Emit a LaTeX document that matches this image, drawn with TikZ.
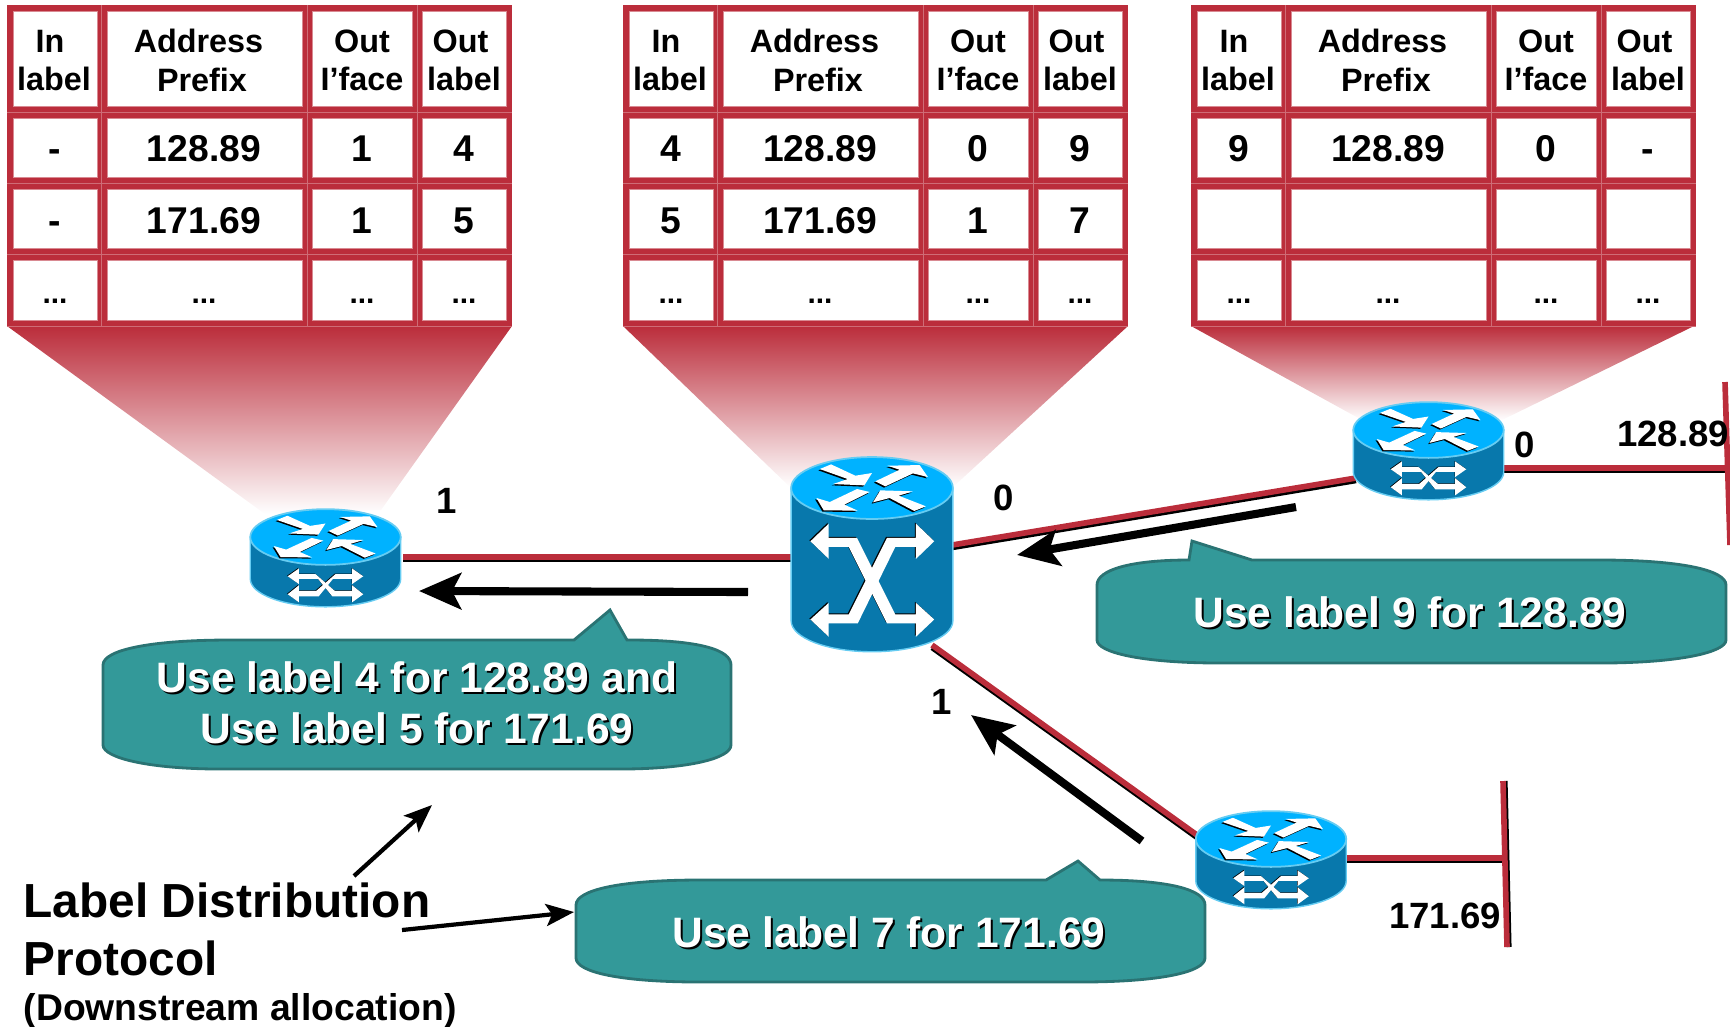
\documentclass[tikz,border=0pt]{standalone}
\usepackage{fontspec}
\setmainfont{Liberation Sans}
\usetikzlibrary{arrows.meta}

\definecolor{lfibred}{HTML}{BB2D3B}
\definecolor{lfibedge}{HTML}{D98A92}
\definecolor{toolteal}{HTML}{339999}
\definecolor{tealedge}{HTML}{2A7373}
\definecolor{routertopc}{HTML}{00B2FF}
\definecolor{routerside}{HTML}{0878AC}
\definecolor{routeredge}{HTML}{66CCF2}

\tikzset{
	headtext/.style={font=\fontsize{9.2}{11}\selectfont\bfseries,align=center,inner sep=0pt},
	celltext/.style={font=\fontsize{10.6}{12}\selectfont\bfseries,inner sep=0pt,text height=7.6pt,text depth=0pt},
	dotstext/.style={font=\fontsize{8.5}{10}\selectfont\bfseries,inner sep=0pt,anchor=base},
	labeltext/.style={font=\fontsize{10.4}{12}\selectfont\bfseries,inner sep=0pt},
	linkred/.style={draw=lfibred,line width=1.6pt},
	linkblack/.style={draw=black,line width=1.4pt},
	bigarrow/.style={line width=2.3pt,-{Stealth[length=0.42cm,width=0.36cm,inset=0.09cm]}},
	thinarrow/.style={line width=1.2pt,-{Stealth[length=0.28cm,width=0.22cm,inset=0.06cm]}},
	calloutbox/.style={fill=toolteal,draw=tealedge,line width=0.8pt},
	routerpart/.style={x=0.00333cm,y=0.00333cm}
}

% one table, #2 is its shift, #3 its two rows
\newcommand{\lfibtable}[3]{
	\begin{scope}[shift={(#2,0)}]
	\fill[lfibred] (7,5) rectangle (512,326);
	\foreach \ya in {112,183,254,326}
		\draw[lfibred!70!white,line width=0.2pt] (7,\ya) -- (512,\ya);
	\foreach \xa in {101.5,307,417}
		\draw[lfibred!70!white,line width=0.2pt] (\xa,5) -- (\xa,326);
	\foreach \xa/\xb in {13/97,107/302,312/412,422/506}
		\foreach \ya/\yb in {11/106,118/177,189/248,260/320}
			\fill[white,draw=lfibedge,line width=0.2pt] (\xa,\ya) rectangle (\xb,\yb);
	\node[headtext] (#1-in) at (54,60.5) {In\kern0.08cm\\label};
	\node[headtext] (#1-pre) at (202,60.5) {Address\kern0.07cm\\Prefix};
	\node[headtext] (#1-if) at (362,60.5) {Out\\I’face};
	\node[headtext] (#1-out) at (464,60.5) {Out\kern0.07cm\\label};
	\foreach \y/\a/\b/\c/\d in {#3} {
		\node[celltext] (#1-in\y) at (55,\y) {\a};
		\node[celltext] (#1-pre\y) at (204,\y) {\b};
		\node[celltext] (#1-if\y) at (362,\y) {\c};
		\node[celltext] (#1-out\y) at (464,\y) {\d};
	}
	\node[dotstext] (#1-ind) at (55,303) {...};
	\node[dotstext] (#1-pred) at (204,303) {...};
	\node[dotstext] (#1-ifd) at (362,303) {...};
	\node[dotstext] (#1-outd) at (464,303) {...};
	\end{scope}
}

% the four arrows on top of a router
\newcommand{\routerarrows}{
	\foreach \dx/\dy/\col in {-4/-4/black,0/0/white} {
		\begin{scope}[shift={(\dx,\dy)}]
		\fill[\col] (-157,57) -- (-123,71) -- (-50,37) -- (0,45) -- (-23,8) -- (-117,12) -- (-73,27) -- cycle;
		\fill[\col] (10,20) -- (83,55) -- (47,67) -- (143,69) -- (168,33) -- (123,44) -- (40,5) -- cycle;
		\fill[\col] (-7,-12) -- (-83,-50) -- (-43,-68) -- (-145,-67) -- (-167,-30) -- (-127,-42) -- (-45,-3) -- cycle;
		\fill[\col] (162,-55) -- (127,-69) -- (53,-30) -- (3,-43) -- (25,-7) -- (123,-10) -- (80,-23) -- cycle;
		\end{scope}
	}
}
% #1 is the height of the side
\newcommand{\routerbody}[1]{
	\fill[routerside,draw=routeredge,line width=0.4pt] (-243,0) -- (-243,-#1) arc (180:360:243 and 93) -- (243,0) -- cycle;
	\fill[routertopc,draw=routeredge,line width=0.5pt] (0,0) ellipse (243 and 93);
	\routerarrows
}
\newcommand{\switchrouter}[3]{
	\begin{scope}[shift={(#2,#3)},routerpart]
	\coordinate (#1) at (0,0);
	\routerbody{399}
	\foreach \dx/\dy/\col in {-3/3/black,0/0/white} {
		\fill[\col,shift={(\dx,\dy)}] (-185,-160) -- (-130,-107) -- (-130,-150) -- (-45,-150) -- (70,-380) -- (132,-380) -- (132,-345) -- (187,-395) -- (132,-447) -- (132,-407) -- (45,-407) -- (-70,-177) -- (-130,-177) -- (-130,-213) -- cycle;
		\fill[\col,shift={(\dx,\dy)}] (187,-160) -- (132,-107) -- (132,-150) -- (45,-150) -- (-70,-380) -- (-130,-380) -- (-130,-345) -- (-185,-395) -- (-130,-447) -- (-130,-407) -- (-43,-407) -- (70,-177) -- (132,-177) -- (132,-213) -- cycle;
	}
	\end{scope}
}
\newcommand{\edgerouter}[3]{
	\begin{scope}[shift={(#2,#3)},routerpart,xscale=0.93,yscale=0.9]
	\coordinate (#1) at (0,0);
	\routerbody{140}
	\foreach \dx/\dy/\col in {-2/2/black,0/0/white} {
		\fill[\col,shift={(\dx,\dy)}] (-122,-131) -- (-86,-105) -- (-86,-124) -- (-32,-124) -- (30,-180) -- (86,-180) -- (86,-161) -- (122,-191) -- (86,-218) -- (86,-198) -- (22,-198) -- (-24,-140) -- (-86,-140) -- (-86,-157) -- cycle;
		\fill[\col,shift={(\dx,\dy)}] (122,-131) -- (86,-105) -- (86,-124) -- (32,-124) -- (-30,-180) -- (-86,-180) -- (-86,-161) -- (-122,-191) -- (-86,-218) -- (-86,-198) -- (-22,-198) -- (24,-140) -- (86,-140) -- (86,-157) -- cycle;
	}
	\end{scope}
}
\newcommand{\calloutlabel}[4]{
	\node[font=\fontsize{12.1}{14}\selectfont\bfseries,text=black] (#1s) at (#2+2,#3+2) {#4};
	\node[font=\fontsize{12.1}{14}\selectfont\bfseries,text=white] (#1) at (#2,#3) {#4};
}

\begin{document}
\begin{tikzpicture}[x=0.01cm,y=-0.01cm]
	\useasboundingbox (0,0) rectangle (1730,1026);

	% fans from the tables down to the routers
	\shade[top color=lfibred,bottom color=white] (7,326) -- (512,326) -- (381,510) -- (265,514) -- cycle;
	\shade[top color=lfibred,bottom color=white] (623,326) -- (1128,326) -- (953,487) -- (790,487) -- cycle;
	\shade[top color=lfibred,bottom color=white] (1191,326) -- (1694,326) -- (1502,420) -- (1362,420) -- cycle;

	\lfibtable{ta}{0}{148/-/128.89/1/4,220/-/171.69/1/5}
	\lfibtable{tb}{616}{148/4/128.89/0/9,220/5/171.69/1/7}
	\lfibtable{tc}{1184}{148/9/128.89/0/-}

	% links, each one red over a black edge
	\coordinate (lka) at (403,557);
	\coordinate (lkb) at (791,557);
	\coordinate (lkc) at (952,545);
	\coordinate (lkd) at (1356,478);
	\coordinate (lke) at (932,645);
	\coordinate (lkf) at (1197,835);
	\coordinate (lkg) at (1503,468);
	\coordinate (lkh) at (1728,468);
	\coordinate (lki) at (1346,858);
	\coordinate (lkj) at (1503,858);
	\coordinate (bara) at (1725,382);
	\coordinate (barb) at (1730,545);
	\coordinate (barc) at (1503,781);
	\coordinate (bard) at (1507,947);
	\foreach \a/\b in {lka/lkb,lkc/lkd,lke/lkf,lkg/lkh,lki/lkj} {
		\draw[linkblack] ([yshift=-0.8pt]\a) -- ([yshift=-0.8pt]\b);
		\draw[linkred] (\a) -- (\b);
	}
	\draw[linkblack] ([xshift=0.6pt]barc) -- ([xshift=0.6pt]bard);
	\draw[linkred] (barc) -- (bard);
	\draw[linkred] (bara) -- (barb);

	\edgerouter{rta}{325.5}{537}
	\switchrouter{rtb}{872}{488}
	\edgerouter{rtc}{1428.5}{430}
	\edgerouter{rtd}{1271}{839}

	% labels on the links
	\node[labeltext] (ifa) at (447,501) {1};
	\node[labeltext] (ifb) at (1004,498) {0};
	\node[labeltext] (ifc) at (1525,445) {0};
	\node[labeltext] (ifd) at (942,702) {1};
	\node[labeltext] (neta) at (1673,434) {128.89};
	\node[labeltext] (netb) at (1445,916) {171.69};

	% label arrows
	\coordinate (lba) at (748,592);
	\coordinate (lbb) at (419,591);
	\coordinate (lbc) at (1296,507);
	\coordinate (lbd) at (1017,555);
	\coordinate (lbe) at (1142,841);
	\coordinate (lbf) at (971,715);
	\draw[bigarrow] (lba) -- (lbb);
	\draw[bigarrow] (lbc) -- (lbd);
	\draw[bigarrow] (lbe) -- (lbf);

	% callouts
	\draw[calloutbox] (103,665) .. controls (103,650) and (150,640) .. (230,640) -- (574,640) -- (610,610) -- (627,640) -- (630,640) .. controls (700,640) and (731,650) .. (731,665) -- (731,745) .. controls (731,758) and (690,769) .. (620,769) -- (220,769) .. controls (150,769) and (103,758) .. (103,745) -- cycle;
	\draw[calloutbox] (1097,585) .. controls (1097,570) and (1130,560) .. (1189,560) -- (1192,541) -- (1252,560) -- (1600,560) .. controls (1680,560) and (1726,570) .. (1726,585) -- (1726,640) .. controls (1726,652) and (1680,663) .. (1600,663) -- (1220,663) .. controls (1140,663) and (1097,652) .. (1097,640) -- cycle;
	\draw[calloutbox] (576,905) .. controls (576,890) and (620,880) .. (700,880) -- (1046,880) -- (1078,861) -- (1100,880) .. controls (1170,880) and (1205,890) .. (1205,905) -- (1205,958) .. controls (1205,972) and (1160,982) .. (1080,982) -- (700,982) .. controls (620,982) and (576,972) .. (576,958) -- cycle;
	\calloutlabel{usea}{417}{677}{Use label 4 for 128.89 and}
	\calloutlabel{useb}{417}{728}{Use label 5 for 171.69}
	\calloutlabel{usec}{1410}{612}{Use label 9 for 128.89}
	\calloutlabel{used}{889}{932}{Use label 7 for 171.69}

	\node[font=\fontsize{13.6}{16}\selectfont\bfseries,anchor=west,inner sep=0pt] (ldpa) at (23,900) {Label Distribution};
	\node[font=\fontsize{13.6}{16}\selectfont\bfseries,anchor=west,inner sep=0pt] (ldpb) at (23,958) {Protocol};
	\node[font=\fontsize{10.6}{12}\selectfont\bfseries,anchor=west,inner sep=0pt] (ldpc) at (23,1011) {(Downstream allocation)};

	\coordinate (ptra) at (354,876);
	\coordinate (ptrb) at (432,805);
	\coordinate (ptrc) at (402,930);
	\coordinate (ptrd) at (574,912);
	\draw[thinarrow] (ptra) -- (ptrb);
	\draw[thinarrow] (ptrc) -- (ptrd);
\end{tikzpicture}
\end{document}
